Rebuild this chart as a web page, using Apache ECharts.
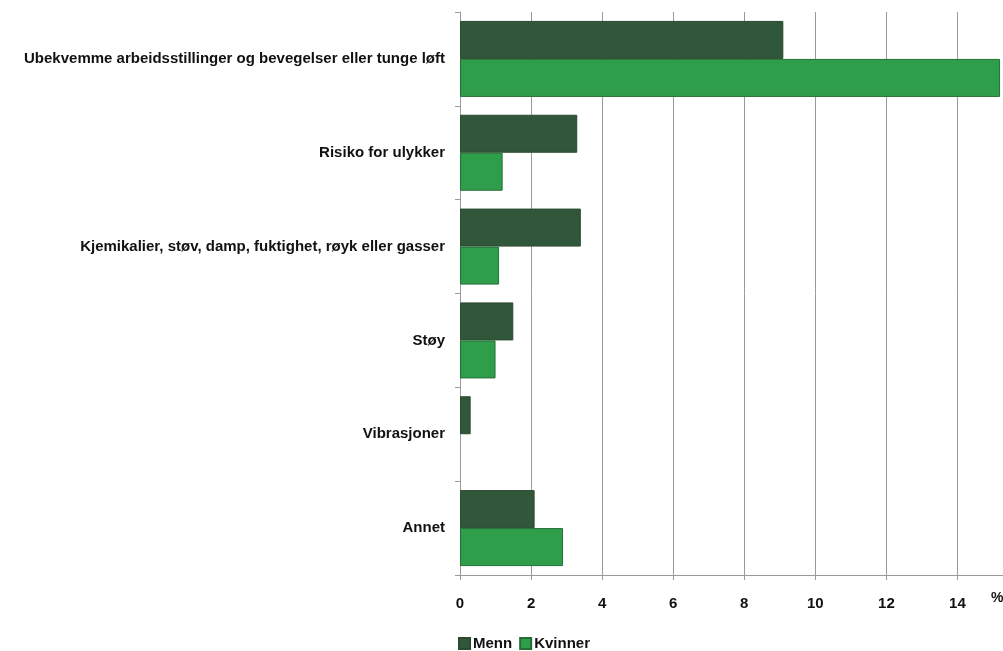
<!DOCTYPE html>
<html>
<head>
<meta charset="utf-8">
<script src="https://cdn.jsdelivr.net/npm/echarts@6/dist/echarts.min.js"></script>
<style>
  html, body { margin: 0; padding: 0; background: #fff; overflow: hidden; }
  #chart { width: 1032px; height: 651px; }
</style>
</head>
<body>
<div id="chart"></div>
<script>
// Arbeidsmiljøfaktorer, andel i prosent etter kjønn
const categories = [
  'Ubekvemme arbeidsstillinger og bevegelser eller tunge løft',
  'Risiko for ulykker',
  'Kjemikalier, støv, damp, fuktighet, røyk eller gasser',
  'Støy',
  'Vibrasjoner',
  'Annet'
];
const menn = [9.1, 3.3, 3.4, 1.5, 0.3, 2.1];
const kvinner = [15.2, 1.2, 1.1, 1.0, 0, 2.9];
const seriesNames = ['Menn', 'Kvinner'];
const unitLabel = '%';

const FONT = '"Liberation Sans", Arial, sans-serif';
const GRID_COLOR = '#9a9a9a';

// zero-length bars are drawn without an outline
const asBars = arr => arr.map(v => (v === 0 ? { value: v, itemStyle: { borderWidth: 0 } } : v));

const chart = echarts.init(document.getElementById('chart'), null, { renderer: 'canvas' });

chart.setOption({
  animation: false,
  backgroundColor: '#ffffff',
  textStyle: { fontFamily: FONT },
  // the value axis runs to 16; the panel is wider than the page so the last step is cut off
  grid: { left: 460, right: 3.5, top: 12, bottom: 76, containLabel: false },
  xAxis: {
    type: 'value',
    min: 0,
    max: 16,
    interval: 2,
    axisLine: { show: true, lineStyle: { color: GRID_COLOR, width: 1 } },
    axisTick: { show: true, length: 5, lineStyle: { color: GRID_COLOR } },
    splitLine: { show: true, lineStyle: { color: GRID_COLOR, width: 1 } },
    axisLabel: {
      margin: 21,
      color: '#111',
      fontSize: 15,
      fontWeight: 'bold',
      fontFamily: FONT,
      formatter: v => (v >= 16 ? '' : String(v))
    }
  },
  yAxis: {
    type: 'category',
    data: categories,
    inverse: true,
    axisLine: { show: true, lineStyle: { color: GRID_COLOR, width: 1 } },
    axisTick: { show: true, length: 5, lineStyle: { color: GRID_COLOR } },
    splitLine: { show: false },
    axisLabel: {
      margin: 15,
      color: '#111',
      fontSize: 15,
      fontWeight: 'bold',
      fontFamily: FONT
    }
  },
  legend: {
    data: seriesNames,
    left: 453,
    top: 631,
    icon: 'rect',
    itemWidth: 11,
    itemHeight: 11,
    itemGap: 7,
    textStyle: { fontSize: 15, fontWeight: 'bold', color: '#111', fontFamily: FONT, padding: [0, 0, 0, -2] }
  },
  graphic: [{
    type: 'text',
    left: 991,
    top: 591,
    style: { text: unitLabel, fontSize: 14, fontWeight: 'bold', fill: '#111', fontFamily: FONT }
  }],
  series: [
    {
      name: seriesNames[0],
      type: 'bar',
      data: asBars(menn),
      barGap: '0%',
      barCategoryGap: '19%',
      itemStyle: { color: '#30573A', borderColor: '#2a4a31', borderWidth: 1 }
    },
    {
      name: seriesNames[1],
      type: 'bar',
      data: asBars(kvinner),
      barGap: '0%',
      barCategoryGap: '19%',
      itemStyle: { color: '#2F9E4B', borderColor: '#246f36', borderWidth: 1 }
    }
  ]
});
</script>
</body>
</html>
